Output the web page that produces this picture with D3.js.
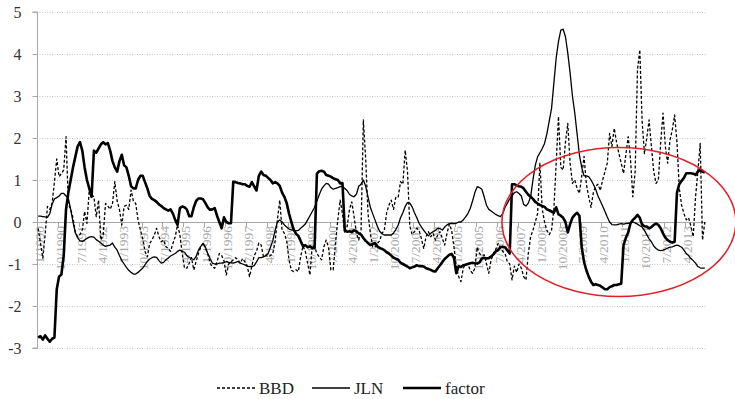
<!DOCTYPE html>
<html>
<head>
<meta charset="utf-8">
<script src="https://cdn.jsdelivr.net/npm/d3@7/dist/d3.min.js"></script>
<style>
  body { margin: 0; background: #fff; }
  svg { display: block; font-family: "Liberation Serif", "DejaVu Serif", serif; }
</style>
</head>
<body>
<div id="chart"></div>
<script>
// monthly series, 1/1990 .. 12/2013
const startYear = 1990;
const nMonths = 288;

const tickLabels = ['1/1990', '10/1990', '7/1991', '4/1992', '1/1993', '10/1993', '7/1994', '4/1995',
  '1/1996', '10/1996', '7/1997', '4/1998', '1/1999', '10/1999', '7/2000', '4/2001', '1/2002', '10/2002',
  '7/2003', '4/2004', '1/2005', '10/2005', '7/2006', '4/2007', '1/2008', '10/2008', '7/2009', '4/2010',
  '1/2011', '10/2011', '7/2012', '4/2013'];

const yTicks = [-3, -2, -1, 0, 1, 2, 3, 4, 5];

const bbd = [
  -0.15, -0.5, -0.86, -0.3, 0.37, 0.3, 0.45, 0.95, 1.5, 1.08, 1.15, 1.24, 2.03, 0.44, 0.3, 0.1,
  -0.25, -0.35, -0.3, -0.19, 0.25, -0.03, 0.76, 0.65, 0.6, 0.13, 0.52, -0.43, -0.3, 0.44, 0.38, 0.3,
  0.44, 0.96, 0.5, 0.3, -0.07, 0.37, 0.4, 0.3, 0.76, 0.5, 0.44, 0.05, -0.19, -0.4, -0.7, -0.83,
  -0.51, -0.43, -0.31, -0.15, -0.35, -0.47, -0.43, -0.59, -0.63, -0.7, -0.51, -0.35, -0.07, -0.3, -0.74, -1.1,
  -1.1, -0.98, -0.85, -1.14, -0.94, -0.75, -0.6, -0.5, -0.63, -0.75, -0.98, -1.06, -1.1, -0.95, -0.75, -0.8,
  -0.93, -1.26, -1.0, -0.95, -0.9, -0.85, -0.9, -0.98, -0.87, -0.95, -1.05, -1.3, -1.05, -0.8, -0.7, -0.5,
  -0.55, -0.83, -0.79, -0.83, -0.8, -0.75, -0.47, 0.05, 0.52, -0.19, -0.27, -0.45, -0.9, -1.15, -1.18, -1.14,
  -1.18, -0.83, -0.57, -0.7, -0.98, -1.26, -0.55, -0.59, -0.75, -0.83, -0.9, -0.59, -0.43, -0.6, -1.14, -1.14,
  -0.51, 0.05, 0.52, 0.2, -0.27, -0.11, 0.29, 0.48, 0.13, -0.27, -0.43, -0.19, 2.43, 1.5, 0.2, -0.27,
  -0.59, -0.6, -0.51, -0.45, -0.27, -0.2, 0.21, 0.4, 0.52, 0.3, 0.6, 0.6, 0.96, 0.9, 1.71, 1.2,
  -0.1, -0.3, -0.23, -0.15, -0.2, -0.4, -0.63, -0.35, -0.23, -0.35, -0.27, -0.43, -0.31, -0.23, -0.39, -0.55,
  -0.27, -0.05, -0.2, -0.59, -1.06, -1.3, -1.42, -1.1, -1.0, -1.0, -1.15, -1.22, -1.1, -0.6, -0.75, -0.8,
  -0.78, -1.0, -1.22, -0.9, -0.75, -0.65, -0.51, -0.6, -0.7, -0.75, -0.95, -1.0, -1.38, -1.05, -1.2, -1.0,
  -1.1, -1.3, -1.38, -0.75, -0.35, -0.2, 0.0, 0.2, 1.4, 0.3, 0.0, -0.2, -0.3, -0.2, 0.3, 1.4,
  2.51, 1.3, 1.24, 1.9, 2.35, 1.4, 0.92, 1.0, 0.8, 0.68, 1.1, 1.56, 0.9, 0.6, 0.35, 0.7,
  0.85, 0.9, 0.75, 1.0, 1.2, 1.4, 2.11, 1.8, 2.23, 1.9, 1.63, 1.4, 1.16, 1.6, 2.03, 1.5,
  0.6, 1.2, 3.62, 4.1, 2.4, 1.63, 2.0, 2.43, 1.8, 1.2, 0.92, 1.0, 1.9, 2.59, 1.8, 1.4,
  1.95, 2.2, 2.55, 1.9, 0.8, 0.4, 0.2, 0.05, 0.1, -0.1, -0.35, 0.6, 1.2, 1.87, -0.43, 0.0
];

const jln = [
  0.14, 0.14, 0.13, 0.12, 0.11, 0.2, 0.42, 0.55, 0.58, 0.62, 0.68, 0.68, 0.62, 0.56, 0.3, 0.0,
  -0.25, -0.38, -0.45, -0.46, -0.43, -0.39, -0.36, -0.35, -0.36, -0.42, -0.46, -0.5, -0.55, -0.58, -0.56, -0.55,
  -0.5, -0.6, -0.67, -0.8, -0.92, -1.0, -1.08, -1.15, -1.2, -1.24, -1.24, -1.2, -1.15, -1.1, -1.02, -0.94,
  -0.88, -0.85, -0.83, -0.84, -0.92, -0.98, -0.96, -0.9, -0.86, -0.81, -0.78, -0.75, -0.7, -0.67, -0.7, -0.72,
  -0.8, -0.84, -0.87, -0.9, -0.82, -0.67, -0.58, -0.51, -0.6, -0.75, -0.87, -0.98, -1.0, -1.0, -0.98, -0.98,
  -0.97, -0.94, -0.96, -0.97, -0.98, -0.96, -0.94, -0.98, -1.0, -1.02, -1.05, -1.06, -1.06, -1.04, -0.95, -0.85,
  -0.85, -0.83, -0.8, -0.75, -0.6, -0.45, -0.2, 0.0, 0.05, 0.0, -0.07, -0.12, -0.17, -0.19, -0.2, -0.21,
  -0.2, -0.15, -0.1, -0.05, 0.05, 0.15, 0.25, 0.35, 0.5, 0.65, 0.78, 0.86, 0.92, 0.9, 0.82, 0.78,
  0.8, 0.82, 0.84, 0.85, 0.8, 0.75, 0.66, 0.62, 0.6, 0.66, 0.85, 0.9, 1.0, 0.85, 0.6, 0.35,
  0.2, 0.05, -0.1, -0.22, -0.28, -0.31, -0.31, -0.31, -0.31, -0.26, -0.18, -0.07, 0.1, 0.22, 0.37, 0.46,
  0.45, 0.36, 0.22, 0.1, -0.03, -0.12, -0.2, -0.27, -0.33, -0.27, -0.23, -0.2, -0.15, -0.16, -0.19, -0.12,
  -0.07, -0.04, -0.03, -0.04, -0.03, 0.0, 0.0, 0.05, 0.12, 0.2, 0.32, 0.5, 0.7, 0.84, 0.82, 0.78,
  0.6, 0.4, 0.3, 0.26, 0.22, 0.18, 0.15, 0.13, 0.2, 0.35, 0.45, 0.55, 0.62, 0.7, 0.72, 0.68,
  0.62, 0.42, 0.38, 0.45, 0.6, 1.0, 1.35, 1.55, 1.65, 1.75, 1.87, 2.1, 2.4, 2.7, 3.3, 3.9,
  4.3, 4.57, 4.59, 4.41, 4.02, 3.55, 3.0, 2.6, 2.1, 1.6, 1.3, 1.1, 1.1, 1.08, 1.0, 0.9,
  0.78, 0.62, 0.5, 0.38, 0.25, 0.12, 0.0, -0.06, -0.07, -0.07, -0.05, -0.04, -0.05, -0.04, -0.03, -0.02,
  0.0, -0.02, -0.05, -0.09, -0.12, -0.2, -0.3, -0.4, -0.47, -0.57, -0.63, -0.67, -0.68, -0.67, -0.65, -0.62,
  -0.6, -0.59, -0.57, -0.55, -0.57, -0.6, -0.67, -0.75, -0.8, -0.87, -0.92, -0.98, -1.06, -1.09, -1.1, -1.1
];

const factor = [
  -2.75, -2.72, -2.8, -2.7, -2.78, -2.85, -2.78, -2.75, -1.6, -1.3, -1.25, -0.8, 0.3, 0.7, 1.0, 1.3,
  1.55, 1.8, 1.9, 1.7, 1.3, 1.0, 0.8, 0.6, 1.7, 1.65, 1.75, 1.85, 1.9, 1.85, 1.88, 1.7,
  1.45, 1.3, 1.2, 1.45, 1.6, 1.35, 1.3, 1.1, 0.85, 0.8, 0.8, 1.0, 1.1, 1.1, 0.95, 0.8,
  0.62, 0.55, 0.52, 0.48, 0.42, 0.38, 0.33, 0.3, 0.27, 0.3, 0.2, 0.05, -0.07, 0.33, 0.37, 0.35,
  0.3, 0.14, 0.14, 0.35, 0.5, 0.56, 0.56, 0.54, 0.45, 0.35, 0.29, 0.3, 0.33, 0.15, 0.0, -0.15,
  0.11, 0.0, -0.03, -0.03, 0.96, 0.95, 0.93, 0.92, 0.9, 0.9, 0.86, 0.84, 0.95, 0.85, 0.75, 1.1,
  1.2, 1.12, 1.1, 1.05, 1.0, 0.92, 0.95, 0.92, 0.86, 0.7, 0.6, 0.45, 0.2, 0.0, -0.18, -0.28,
  -0.33, -0.45, -0.58, -0.55, -0.6, -0.58, -0.62, -0.62, 1.15, 1.21, 1.22, 1.2, 1.12, 1.1, 1.08, 1.04,
  1.02, 1.0, 0.92, 0.93, -0.2, -0.23, -0.22, -0.24, -0.2, -0.22, -0.27, -0.3, -0.38, -0.45, -0.5, -0.55,
  -0.52, -0.5, -0.58, -0.62, -0.64, -0.67, -0.72, -0.75, -0.8, -0.85, -0.88, -0.9, -0.97, -1.0, -1.03, -1.06,
  -1.1, -1.08, -1.06, -1.03, -1.05, -1.05, -1.06, -1.1, -1.12, -1.14, -1.17, -1.18, -1.1, -1.03, -0.95, -0.88,
  -0.83, -0.78, -0.76, -0.85, -1.22, -1.05, -1.07, -1.03, -1.02, -1.0, -0.98, -0.97, -0.98, -0.99, -0.96, -0.87,
  -0.85, -0.87, -0.86, -0.82, -0.77, -0.7, -0.67, -0.6, -0.59, -0.6, -0.68, -0.75, 0.9, 0.9, 0.87, 0.85,
  0.84, 0.8, 0.72, 0.65, 0.6, 0.55, 0.48, 0.44, 0.41, 0.38, 0.36, 0.3, 0.28, 0.25, 0.22, 0.35,
  0.18, 0.15, 0.1, 0.0, -0.25, -0.05, 0.1, 0.17, 0.22, 0.15, -0.6, -0.95, -1.15, -1.3, -1.42, -1.5,
  -1.48, -1.5, -1.52, -1.56, -1.6, -1.6, -1.55, -1.53, -1.5, -1.5, -1.48, -1.47, -0.55, -0.38, -0.25, -0.03,
  0.05, 0.1, 0.17, 0.1, -0.07, -0.1, -0.11, -0.15, -0.12, -0.07, -0.04, -0.07, -0.15, -0.27, -0.37, -0.43,
  -0.47, -0.49, -0.47, 0.7, 0.9, 0.98, 1.05, 1.16, 1.16, 1.16, 1.15, 1.12, 1.2, 1.24, 1.2, 1.18
];

const categories = d3.range(nMonths).map(i => ((i % 12) + 1) + '/' + (startYear + Math.floor(i / 12)));

const series = [
  { name: 'BBD', values: bbd, width: 1.3, dash: '3,2' },
  { name: 'JLN', values: jln, width: 1.3, dash: null },
  { name: 'factor', values: factor, width: 2.6, dash: null }
];

const width = 735, height = 399;
const plotLeft = 37, plotRight = 706, plotTop = 12, plotBottom = 348;

const svg = d3.select('#chart').append('svg')
  .attr('width', width)
  .attr('height', height);

const x = d3.scaleBand().domain(categories).range([plotLeft, plotRight]);
const y = d3.scaleLinear().domain([-3, 5]).range([plotBottom, plotTop]);
const cx = c => x(c) + x.bandwidth() / 2;

// gridlines
svg.append('g')
  .selectAll('line')
  .data(yTicks.filter(d => d !== 0))
  .join('line')
  .attr('x1', plotLeft).attr('x2', plotRight)
  .attr('y1', d => y(d) + 0.5).attr('y2', d => y(d) + 0.5)
  .attr('stroke', '#c8c8c8')
  .attr('stroke-dasharray', '1,1.5');

// y axis
const yAxis = svg.append('g').attr('transform', `translate(${plotLeft + 0.5},0)`)
  .call(d3.axisLeft(y).tickValues(yTicks).tickSize(5).tickPadding(11).tickFormat(d3.format('d')))
  .attr('font-family', '"Liberation Serif", serif')
  .attr('font-size', 16);
yAxis.select('.domain').attr('stroke', '#a6a6a6').attr('d', `M-5,${y(-3)}H0V${y(5)}H-5`);
yAxis.selectAll('.tick line').attr('stroke', '#a6a6a6');
yAxis.selectAll('.tick text')
  .attr('fill', '#333')
  .text(d => d < 0 ? '-' + Math.abs(d) : d);

// zero axis with category ticks
const zero = svg.append('g');
zero.append('line')
  .attr('x1', plotLeft).attr('x2', plotRight)
  .attr('y1', y(0) + 0.5).attr('y2', y(0) + 0.5)
  .attr('stroke', '#a6a6a6');
zero.selectAll('line.tk')
  .data(tickLabels)
  .join('line')
  .attr('class', 'tk')
  .attr('x1', d => Math.round(x(d)) + 0.5).attr('x2', d => Math.round(x(d)) + 0.5)
  .attr('y1', y(0)).attr('y2', y(0) + 5)
  .attr('stroke', '#a6a6a6');

// rotated category labels, under the lines
svg.append('g')
  .selectAll('text')
  .data(tickLabels)
  .join('text')
  .attr('transform', d => `translate(${cx(d) + 1},${y(0) + 4}) rotate(-90)`)
  .attr('dy', '0.35em')
  .attr('text-anchor', 'end')
  .attr('fill', '#a9a9a9')
  .style('font-size', '13.5px')
  .text(d => d);

// series lines
const line = d3.line()
  .x((d, i) => cx(categories[i]))
  .y(d => y(d));

svg.append('g')
  .selectAll('path')
  .data(series)
  .join('path')
  .attr('d', d => line(d.values))
  .attr('fill', 'none')
  .attr('stroke', '#000')
  .attr('stroke-width', d => d.width)
  .attr('stroke-dasharray', d => d.dash)
  .attr('stroke-linejoin', 'round');

// red ellipse highlighting the recent period
svg.append('ellipse')
  .attr('cx', cx(categories[250]))
  .attr('cy', y(0))
  .attr('rx', 117)
  .attr('ry', 74.5)
  .attr('fill', 'none')
  .attr('stroke', '#e2202c')
  .attr('stroke-width', 1.6);

// legend
const legendX = [217, 312, 403];
const legend = svg.append('g')
  .selectAll('g')
  .data(series)
  .join('g')
  .attr('transform', (d, i) => `translate(${legendX[i]},388)`);
legend.append('line')
  .attr('x1', 0).attr('x2', 38)
  .attr('stroke', '#000')
  .attr('stroke-width', d => d.width)
  .attr('stroke-dasharray', d => d.dash);
legend.append('text')
  .attr('x', 42)
  .attr('dy', '0.35em')
  .style('font-size', '17px')
  .attr('fill', '#222')
  .text(d => d.name);
</script>
</body>
</html>
